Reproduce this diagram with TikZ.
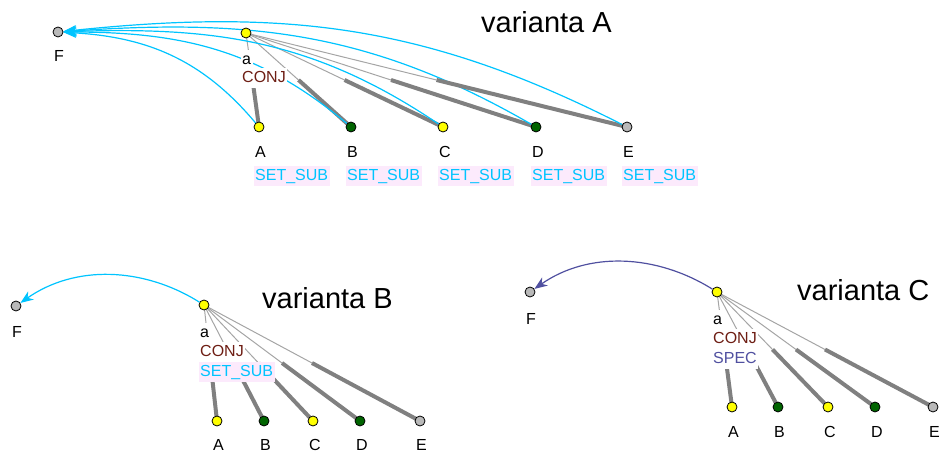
\documentclass[tikz,border=0pt]{standalone}
\usepackage{fontspec}
\setmainfont{Liberation Sans}
\usepackage{xcolor}
\usepackage{tikz}
\usetikzlibrary{arrows.meta, positioning, backgrounds}
\definecolor{TrYellow}{RGB}{255,255,0}
\definecolor{TrGreen}{RGB}{0,100,0}
\definecolor{TrGray}{RGB}{185,185,185}
\definecolor{TrCyan}{RGB}{0,196,255}
\definecolor{TrSlate}{RGB}{80,80,160}
\definecolor{TrBrown}{RGB}{110,30,20}
\definecolor{TrPink}{RGB}{252,234,252}
\definecolor{TrEdge}{RGB}{128,128,128}
\definecolor{TrThin}{RGB}{165,165,165}
\tikzset{
  tnode/.style={circle, draw=black, line width=0.8pt, minimum size=10pt, inner sep=0pt},
  lbl/.style={font=\fontsize{16}{18}\selectfont, anchor=west, inner xsep=1.5pt,
              inner ysep=2.5pt, text height=12pt, text depth=3.5pt, fill=white},
  conjlbl/.style={lbl, text=TrBrown},
  setlbl/.style={lbl, text=TrCyan, fill=TrPink},
  speclbl/.style={lbl, text=TrSlate},
  vartitle/.style={font=\fontsize{29}{32}\selectfont, anchor=west, inner sep=0pt},
  thinedge/.style={TrThin, line width=1pt},
  thickedge/.style={TrEdge, line width=4pt},
  coref/.style={#1, line width=1.2pt, -{Stealth[length=13pt, width=10pt]}},
}

\begin{document}
\begin{tikzpicture}[x=1pt, y=-1pt]
  \useasboundingbox (0,0) rectangle (939,454);

  % varianta A
  \node[vartitle] (titA) at (481,22) {varianta A};
  \node[tnode, fill=TrGray] (fA) at (58,32) {};
  \node[tnode, fill=TrYellow] (aA) at (246,33) {};
  \foreach \n/\x/\c/\o/\i in {A/259/TrYellow/130/-3, B/351/TrGreen/140/0,
                              C/443/TrYellow/146/2, D/536/TrGreen/150/4,
                              E/627/TrGray/153/6} {
    \node[tnode, fill=\c] (cA\n) at (\x,127) {};
    \begin{scope}[on background layer]
      \path (aA.center) -- (cA\n.center) coordinate[midway] (mA\n);
      \draw[thinedge] (aA.center) -- (mA\n);
      \draw[thickedge] (mA\n) -- (cA\n.center);
      \draw[coref=TrCyan] (cA\n) to[out=\o, in=\i] (fA);
    \end{scope}
    \node[lbl] (lA\n) at (\x-5.5,153) {\n};
    \node[setlbl] (sA\n) at (\x-5.5,176) {SET\_SUB};
  }
  \node[lbl] (laA) at (240.5,60) {a};
  \node[conjlbl] (cjA) at (240.5,78) {CONJ};
  \node[lbl] (lfA) at (52.5,57) {F};

  % varianta B
  \node[vartitle] (titB) at (262,298) {varianta B};
  \node[tnode, fill=TrGray] (fB) at (16,306) {};
  \node[tnode, fill=TrYellow] (aB) at (204,305) {};
  \foreach \n/\x/\c in {A/217/TrYellow, B/264/TrGreen, C/313/TrYellow,
                        D/360/TrGreen, E/420/TrGray} {
    \node[tnode, fill=\c] (cB\n) at (\x,421) {};
    \begin{scope}[on background layer]
      \path (aB.center) -- (cB\n.center) coordinate[midway] (mB\n);
      \draw[thinedge] (aB.center) -- (mB\n);
      \draw[thickedge] (mB\n) -- (cB\n.center);
    \end{scope}
    \node[lbl] (lB\n) at (\x-5.5,446) {\n};
  }
  \begin{scope}[on background layer]
    \draw[coref=TrCyan] (aB) to[out=148, in=35, looseness=0.95] (fB);
  \end{scope}
  \node[lbl] (laB) at (198.5,333) {a};
  \node[conjlbl] (cjB) at (198.5,352) {CONJ};
  \node[setlbl] (stB) at (198.5,372) {SET\_SUB};
  \node[lbl] (lfB) at (10.5,333) {F};

  % varianta C
  \node[vartitle] (titC) at (797,290) {varianta C};
  \node[tnode, fill=TrGray] (fC) at (530,292) {};
  \node[tnode, fill=TrYellow] (aC) at (717,292) {};
  \foreach \n/\x/\c in {A/732/TrYellow, B/778/TrGreen, C/828/TrYellow,
                        D/875/TrGreen, E/933/TrGray} {
    \node[tnode, fill=\c] (cC\n) at (\x,407) {};
    \begin{scope}[on background layer]
      \path (aC.center) -- (cC\n.center) coordinate[midway] (mC\n);
      \draw[thinedge] (aC.center) -- (mC\n);
      \draw[thickedge] (mC\n) -- (cC\n.center);
    \end{scope}
    \node[lbl] (lC\n) at (\x-5.5,433) {\n};
  }
  \begin{scope}[on background layer]
    \draw[coref=TrSlate] (aC) to[out=148, in=35, looseness=0.95] (fC);
  \end{scope}
  \node[lbl] (laC) at (711.5,320) {a};
  \node[conjlbl] (cjC) at (711.5,339) {CONJ};
  \node[speclbl] (spC) at (711.5,359) {SPEC};
  \node[lbl] (lfC) at (524.5,320) {F};
\end{tikzpicture}
\end{document}
